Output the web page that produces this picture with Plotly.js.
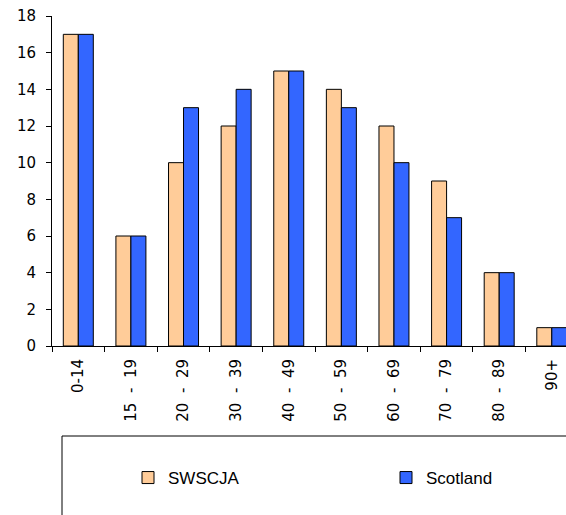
<!DOCTYPE html>
<html><head><meta charset="utf-8">
<script src="https://cdn.plot.ly/plotly-3.0.1.min.js"></script>
<style>html,body{margin:0;padding:0;background:#fff}#chart{width:566px;height:515px}</style>
</head><body><div id="chart"></div>
<script>
const categories = ["0-14","15 - 19","20 - 29","30 - 39","40 - 49","50 - 59","60 - 69","70 - 79","80 - 89","90+"];
const swscja = [17,6,10,12,15,14,12,9,4,1];
const scotland = [17,6,13,14,15,13,10,7,4,1];
const seriesNames = ["SWSCJA","Scotland"];

const tickLabels = categories.map(c => c.replace(" - ", "\u00A0\u00A0-\u00A0\u00A0"));

const traces = [
  {type:"bar", name:seriesNames[0], x:categories, y:swscja, legend:"legend",
   marker:{color:"#FFCC99", line:{color:"#000", width:1}}},
  {type:"bar", name:seriesNames[1], x:categories, y:scotland, legend:"legend2",
   marker:{color:"#3366FF", line:{color:"#000", width:1}}}
];
const legendBase = {orientation:"h", xanchor:"left", y:-0.4, yanchor:"middle",
  font:{family:"Liberation Sans", size:17, color:"#000"},
  bgcolor:"rgba(0,0,0,0)", borderwidth:0};
const layout = {
  width:566, height:515,
  margin:{l:52, r:0, t:16, b:169},
  paper_bgcolor:"#fff", plot_bgcolor:"#fff",
  barmode:"group", bargap:0.43, bargroupgap:0,
  font:{family:"DejaVu Sans", size:14, color:"#000"},
  xaxis:{type:"category", range:[-0.5, 9.27], showgrid:false, showline:true, linecolor:"#000", linewidth:1,
    ticks:"outside", ticklen:5, tickcolor:"#000", tickson:"boundaries", tickangle:-90,
    tickmode:"array", tickvals:categories, ticktext:tickLabels,
    tickfont:{family:"DejaVu Sans", size:15}, ticklabelstandoff:6, zeroline:false, fixedrange:true},
  yaxis:{range:[0,18], dtick:2, showgrid:false, showline:true, linecolor:"#000", linewidth:1,
    ticks:"outside", ticklen:5, tickcolor:"#000", tickfont:{family:"DejaVu Sans", size:15},
    ticklabelstandoff:7, zeroline:false, fixedrange:true},
  showlegend:true,
  legend:Object.assign({}, legendBase, {x:(128-52)/514}),
  legend2:Object.assign({}, legendBase, {x:(386-52)/514}),
  shapes:[{type:"rect", xref:"paper", yref:"paper", x0:(62-52)/514, x1:1.1, y0:(346-436)/330, y1:-1,
    line:{color:"#000", width:1}, fillcolor:"rgba(0,0,0,0)"}]
};
Plotly.newPlot("chart", traces, layout, {displayModeBar:false, staticPlot:true});
</script></body></html>
